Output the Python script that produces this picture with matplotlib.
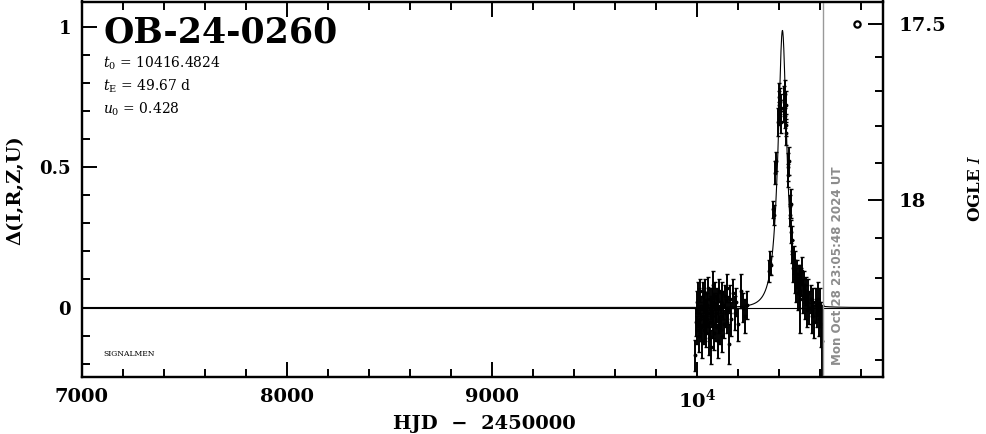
import numpy as np
import matplotlib
matplotlib.use("Agg")
import matplotlib.pyplot as plt
from matplotlib.ticker import FixedLocator, MultipleLocator, NullFormatter, FixedFormatter

# ---------------- data ----------------
event_name = "OB-24-0260"
t0 = 10416.4824
tE = 49.67
u0 = 0.428
blend_fs = 0.66

# season 1 (baseline)
t1 = [9990, 9995, 9998, 10001, 10004, 10006, 10009, 10011, 10014, 10016,
      10019, 10021, 10024, 10027, 10029, 10032, 10034, 10037, 10040, 10042,
      10045, 10047, 10050, 10053, 10055, 10058, 10061, 10063, 10066, 10069,
      10071, 10074, 10077, 10080, 10082, 10085, 10088, 10091, 10094, 10097,
      10100, 10103, 10106, 10109, 10112, 10115, 10118, 10121, 10124, 10128,
      10132, 10136, 10140, 10144, 10148, 10152, 10157, 10162, 10168, 10175,
      10183, 10192, 10201, 10212, 10223, 10235, 10246]
d1 = [-0.17, -0.05, 0.02, -0.08, 0.05, -0.02, -0.10, 0.03, -0.04, 0.06,
      -0.07, 0.00, -0.12, 0.04, -0.03, -0.08, 0.02, -0.06, 0.05, -0.01,
      -0.09, 0.01, -0.04, 0.07, -0.02, -0.11, 0.03, -0.05, 0.00, -0.14,
      0.02, -0.03, 0.08, -0.06, 0.01, -0.09, 0.04, -0.02, -0.07, 0.03,
      -0.12, 0.00, 0.06, -0.04, -0.08, 0.02, -0.03, 0.05, -0.10, 0.01,
      -0.06, 0.04, -0.02, 0.07, -0.05, -0.01, -0.13, 0.03, -0.04, 0.05,
      -0.02, 0.02, -0.06, 0.06, 0.00, -0.03, 0.01]
e1 = [0.055, 0.05, 0.04, 0.05, 0.04, 0.05, 0.06, 0.04, 0.05, 0.04,
      0.05, 0.04, 0.06, 0.05, 0.04, 0.05, 0.04, 0.06, 0.05, 0.04,
      0.05, 0.04, 0.05, 0.04, 0.05, 0.06, 0.04, 0.05, 0.04, 0.06,
      0.05, 0.04, 0.05, 0.05, 0.04, 0.06, 0.05, 0.04, 0.05, 0.04,
      0.06, 0.05, 0.04, 0.05, 0.05, 0.04, 0.05, 0.04, 0.06, 0.05,
      0.05, 0.04, 0.05, 0.05, 0.04, 0.05, 0.07, 0.05, 0.06, 0.05,
      0.06, 0.05, 0.06, 0.06, 0.05, 0.06, 0.05]

# season 2 (event)
t2 = [10352, 10356, 10360, 10371, 10374, 10380, 10383, 10396, 10398, 10400,
      10402, 10404, 10406, 10408, 10410, 10424, 10426, 10428, 10430, 10432,
      10434, 10436, 10444, 10446, 10448, 10452, 10454, 10456, 10460, 10462,
      10465, 10468, 10472, 10476, 10480, 10484, 10488, 10492, 10496, 10500,
      10503, 10507, 10511, 10515, 10520, 10525, 10530, 10536, 10542, 10548,
      10554, 10560, 10566, 10572, 10578, 10584, 10590, 10596, 10602, 10607,
      10610]
d2 = [0.13, 0.16, 0.15, 0.35, 0.33, 0.48, 0.52, 0.66, 0.72, 0.69,
      0.75, 0.70, 0.73, 0.66, 0.71, 0.74, 0.70, 0.76, 0.68, 0.72,
      0.65, 0.62, 0.50, 0.47, 0.52, 0.36, 0.33, 0.37, 0.27, 0.24,
      0.20, 0.14, 0.17, 0.11, 0.15, 0.08, 0.12, 0.05, 0.10, 0.06,
      0.03, 0.09, 0.13, 0.04, 0.08, 0.02, 0.06, -0.01, 0.05, 0.00,
      0.03, -0.03, 0.02, -0.05, 0.01, -0.02, 0.03, -0.04, 0.00, -0.06,
      -0.12]
e2 = [0.04, 0.04, 0.035, 0.03, 0.035, 0.04, 0.035, 0.05, 0.05, 0.04,
      0.05, 0.04, 0.05, 0.04, 0.05, 0.05, 0.04, 0.05, 0.04, 0.05,
      0.04, 0.04, 0.05, 0.04, 0.05, 0.04, 0.04, 0.05, 0.04, 0.05,
      0.04, 0.05, 0.05, 0.06, 0.05, 0.06, 0.05, 0.06, 0.05, 0.06,
      0.12, 0.05, 0.05, 0.06, 0.05, 0.06, 0.05, 0.06, 0.05, 0.06,
      0.05, 0.06, 0.05, 0.06, 0.06, 0.05, 0.06, 0.06, 0.07, 0.08,
      0.13]

now_hjd = 10615
now_label = "Mon Oct 28 23:05:48 2024 UT"
ref_point_t = 10780
ref_point_mag = 17.5

x_ticks = [7000, 8000, 9000, 10000]
x_ticklabels = ["7000", "8000", "9000", r"$\mathbf{10^4}$"]
y_ticks = [0, 0.5, 1]
y_ticklabels = ["0", "0.5", "1"]
mag_major = [17.5, 18.0]
mag_major_labels = ["17.5", "18"]
mag_minor = [17.6, 17.7, 17.8, 17.9, 18.1, 18.2, 18.3, 18.4]


def delta_of_mag(m):
    m = np.asarray(m, dtype=float)
    return 0.3826 - 1.35 * (m - 18.0) - 0.19 * (m - 18.0) ** 2


# ---------------- figure ----------------
plt.rcParams["mathtext.fontset"] = "dejavuserif"
SERIF = "DejaVu Serif"

W, H = 986, 434
fig = plt.figure(figsize=(W / 100, H / 100), dpi=100)
L, R, B, T = 82, 883, 377, 1.5
ax = fig.add_axes([L / W, 1 - B / H, (R - L) / W, (B - T) / H])
xmin, xmax = 7000, 10907
ymin, ymax = -0.2473, 1.089
ax.set_xlim(xmin, xmax)
ax.set_ylim(ymin, ymax)

# model
tm = np.linspace(xmin, xmax, 6000)
tau = (tm - t0) / tE
u = np.sqrt(u0 ** 2 + tau ** 2)
A = (u ** 2 + 2) / (u * np.sqrt(u ** 2 + 4))
model = blend_fs * (A - 1)
ax.axhline(0, color="black", lw=0.8, zorder=1)
ax.plot(tm, model, color="black", lw=0.8, zorder=2)

# data
for tt, dd, ee in ((t1, d1, e1), (t2, d2, e2)):
    ax.errorbar(tt, dd, yerr=ee, fmt="o", ms=1.8, color="black",
                ecolor="black", elinewidth=1.4, capsize=1.2, capthick=1.0,
                zorder=3)

# now line
ax.axvline(now_hjd, color="#999999", lw=1.0, zorder=4)
ax.text(now_hjd + 40, -0.205, now_label, rotation=90, color="#8c8c8c",
        fontsize=8.6, fontweight="bold", family="DejaVu Sans",
        ha="left", va="bottom", zorder=5)

# reference point
ax.plot([ref_point_t], delta_of_mag([ref_point_mag]), marker="o", ms=4.5,
        mfc="white", mec="black", mew=1.6, ls="none", zorder=5)

# texts
ax.text(0.0265, 0.962, event_name, transform=ax.transAxes, fontsize=25,
        fontweight="bold", family=SERIF, ha="left", va="top")
ax.text(0.0265, 0.835, r"$t_0$ = 10416.4824", transform=ax.transAxes,
        fontsize=10, family=SERIF, ha="left", va="center")
ax.text(0.0265, 0.773, r"$t_{\rm E}$ = 49.67 d", transform=ax.transAxes,
        fontsize=10, family=SERIF, ha="left", va="center")
ax.text(0.0265, 0.712, r"$u_0$ = 0.428", transform=ax.transAxes,
        fontsize=10, family=SERIF, ha="left", va="center")
ax.text(0.0265, 0.06, "SIGNALMEN", transform=ax.transAxes,
        fontsize=5.5, family=SERIF, ha="left", va="center")

# spines / ticks
for s in ax.spines.values():
    s.set_linewidth(1.6)
ax.xaxis.set_major_locator(FixedLocator(x_ticks))
ax.xaxis.set_major_formatter(FixedFormatter(x_ticklabels))
ax.xaxis.set_minor_locator(MultipleLocator(200))
ax.yaxis.set_major_locator(FixedLocator(y_ticks))
ax.yaxis.set_major_formatter(FixedFormatter(y_ticklabels))
ax.yaxis.set_minor_locator(MultipleLocator(0.1))
ax.tick_params(which="both", direction="in", top=True, right=False,
               width=1.4)
ax.tick_params(which="major", length=11)
ax.tick_params(which="minor", length=5.5)
ax.tick_params(axis="x", which="major", pad=8, labelsize=14)
ax.tick_params(axis="y", which="major", pad=8, labelsize=13)
for lab in ax.get_xticklabels() + ax.get_yticklabels():
    lab.set_fontfamily(SERIF)
    lab.set_fontweight("bold")

# right magnitude axis
ax2 = ax.twinx()
ax2.set_ylim(ymin, ymax)
ax2.yaxis.set_major_locator(FixedLocator(delta_of_mag(mag_major)))
ax2.yaxis.set_major_formatter(FixedFormatter(mag_major_labels))
ax2.yaxis.set_minor_locator(FixedLocator(delta_of_mag(mag_minor)))
ax2.yaxis.set_minor_formatter(NullFormatter())
ax2.tick_params(which="both", direction="in", width=1.4)
ax2.tick_params(which="major", length=11, pad=11, labelsize=14)
ax2.tick_params(which="minor", length=5.5)
for lab in ax2.get_yticklabels():
    lab.set_fontfamily(SERIF)
    lab.set_fontweight("bold")
for s in ax2.spines.values():
    s.set_linewidth(1.6)

# axis labels
fig.text(484 / W, 1 - 424 / H, "HJD  \u2212  2450000", fontsize=14,
         fontweight="bold", family=SERIF, ha="center", va="center")
fig.text(15 / W, 1 - 190 / H, "\u0394(I,R,Z,U)", fontsize=14,
         fontweight="bold", family=SERIF, rotation=90, ha="center",
         va="center")
fig.text(975 / W, 1 - 188 / H, r"OGLE $\mathbf{\mathit{I}}$", fontsize=12,
         fontweight="bold", family=SERIF, rotation=90, ha="center",
         va="center")

fig.savefig("out.png", dpi=100)
